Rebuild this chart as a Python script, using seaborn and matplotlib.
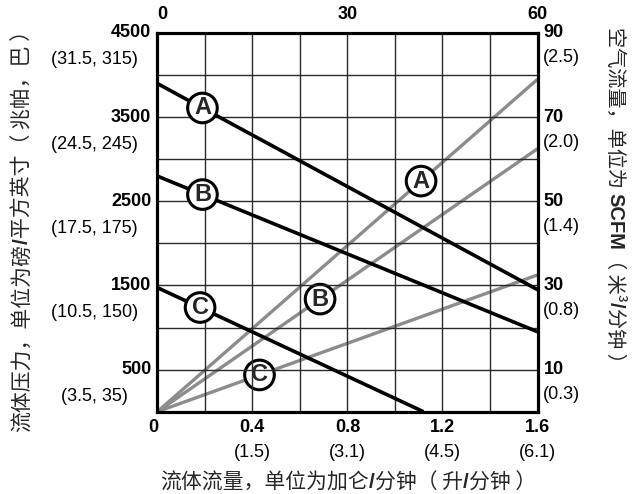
import numpy as np
import pandas as pd
import matplotlib
matplotlib.use("Agg")
import matplotlib.pyplot as plt
import seaborn as sns

sns.set_style("white")
plt.rcParams['font.family'] = ['Liberation Sans', 'Noto Sans CJK SC', 'DejaVu Sans']
CJK = ['Noto Sans CJK SC', 'Liberation Sans', 'DejaVu Sans']
LAT = ['Liberation Sans', 'DejaVu Sans']

# ---------------- data ----------------
flow_ab = [0.0, 1.6]
flow_c = [0.0, 1.12]
pressure_a = [3900, 1450]
pressure_b = [2800, 950]
pressure_c = [1475, 0]

air_flow_x = [0.0, 1.6]
air_a = [0, 79]
air_b = [0, 62.5]
air_c = [0, 32.5]

series_names = ["A", "B", "C"]

left_ticks = [500, 1500, 2500, 3500, 4500]
left_sub = ["(3.5, 35)", "(10.5, 150)", "(17.5, 175)", "(24.5, 245)", "(31.5, 315)"]
right_ticks = [10, 30, 50, 70, 90]
right_sub = ["(0.3)", "(0.8)", "(1.4)", "(2.0)", "(2.5)"]
bottom_ticks = [0, 0.4, 0.8, 1.2, 1.6]
bottom_labels = ["0", "0.4", "0.8", "1.2", "1.6"]
bottom_sub_pos = [0.4, 0.8, 1.2, 1.6]
bottom_sub = ["(1.5)", "(3.1)", "(4.5)", "(6.1)"]
top_ticks = [0, 30, 60]

# axis titles as (text, bold) pieces
xlabel_parts = [("流体流量，单位为加仑", False), ("/", True), ("分钟（ 升", False),
                ("/", True), ("分钟 ）", False)]
ylabel_left_parts = [("流体压力，单位为磅", False), ("/", True),
                     ("平方英寸（ 兆帕，巴 ）", False)]
ylabel_right_parts = [("空气流量，单位为 ", False), ("SCFM", True),
                      ("（ 米³", False), ("/", True), ("分钟 ）", False)]

# label positions along the lines (x in gpm)
black_label_x = [0.19, 0.19, 0.18]
gray_label_x = [1.11, 0.685, 0.43]

# ---------------- figure ----------------
W, H = 637, 494
fig = plt.figure(figsize=(W / 100, H / 100), dpi=100)
L, R, B, T = 157.3, 537.5, 411.7, 33.0
ax = fig.add_axes([L / W, 1 - B / H, (R - L) / W, (B - T) / H])
ax_r = ax.twinx()
ax_t = ax.twiny()

GRAY = "#8c8c8c"

gray_data = [air_a, air_b, air_c]
for name, yv in zip(series_names, gray_data):
    df = pd.DataFrame({"x": air_flow_x, "y": yv})
    sns.lineplot(data=df, x="x", y="y", ax=ax_r, color=GRAY, lw=2.4,
                 solid_capstyle="butt")
ax_r.set_ylim(0, 90)

black_data = [(flow_ab, pressure_a), (flow_ab, pressure_b), (flow_c, pressure_c)]
for name, (xv, yv) in zip(series_names, black_data):
    df = pd.DataFrame({"x": xv, "y": yv})
    sns.lineplot(data=df, x="x", y="y", ax=ax, color="black", lw=2.6,
                 solid_capstyle="butt")

ax.set_zorder(ax_r.zorder + 1)
ax.patch.set_visible(False)
ax_t.set_zorder(ax.zorder + 1)
ax_t.patch.set_visible(False)

ax.set_xlim(0, 1.6)
ax.set_ylim(0, 4500)
ax_t.set_xlim(0, 60)

ax.set_xticks(np.arange(0, 1.61, 0.2))
ax.set_yticks(np.arange(0, 4501, 500))
ax.grid(True, color="#2a2a2a", lw=1.0)
ax.set_xticklabels([])
ax.set_yticklabels([])
ax.tick_params(length=0)
ax.set_xlabel("")
ax.set_ylabel("")
ax_r.set_ylabel("")
ax_r.set_xlabel("")
ax_r.set_yticks([])
ax_t.set_xticks([])
ax_r.grid(False)
ax_t.grid(False)

for a in (ax, ax_r, ax_t):
    for s in a.spines.values():
        s.set_color("black")
        s.set_linewidth(2.2)

bold_kw = dict(fontsize=13, fontweight="bold", color="black")
sub_kw = dict(fontsize=13, color="black")

ytr = ax.get_yaxis_transform()
for v, s in zip(left_ticks, left_sub):
    ax.annotate(str(v), xy=(0, v), xycoords=ytr, xytext=(-6, 0),
                textcoords="offset pixels", ha="right", va="center", **bold_kw)
    ax.annotate(s, xy=(0, v), xycoords=ytr, xytext=(-63, -27),
                textcoords="offset pixels", ha="center", va="center", **sub_kw)

for v, s in zip(right_ticks, right_sub):
    ax_r.annotate(str(v), xy=(1, v), xycoords=ax_r.get_yaxis_transform(),
                  xytext=(6, 0), textcoords="offset pixels", ha="left",
                  va="center", **bold_kw)
    ax_r.annotate(s, xy=(1, v), xycoords=ax_r.get_yaxis_transform(),
                  xytext=(5, -25), textcoords="offset pixels", ha="left",
                  va="center", **sub_kw)

xtr = ax.get_xaxis_transform()
for v, s in zip(bottom_ticks, bottom_labels):
    dx = -4 if v == 0 else 0
    ax.annotate(s, xy=(v, 0), xycoords=xtr, xytext=(dx, -16),
                textcoords="offset pixels", ha="center", va="center", **bold_kw)
for v, s in zip(bottom_sub_pos, bottom_sub):
    ax.annotate(s, xy=(v, 0), xycoords=xtr, xytext=(0, -41),
                textcoords="offset pixels", ha="center", va="center", **sub_kw)

for v in top_ticks:
    dx = 5 if v == 0 else 0
    ax_t.annotate(str(v), xy=(v, 1), xycoords=ax_t.get_xaxis_transform(),
                  xytext=(dx, 18), textcoords="offset pixels", ha="center",
                  va="center", **bold_kw)

# ---- axis titles made of mixed-weight pieces ----
renderer = fig.canvas.get_renderer()


def piece_kw(bold, size):
    if bold:
        return dict(family=LAT, fontweight="bold", fontsize=size)
    return dict(family=CJK, fontweight="normal", fontsize=size)


def place_title(parts, cx, cy, rotation, size):
    """cx, cy in pixels from top-left; text runs along rotation direction."""
    # measure
    lengths = []
    for txt, bold in parts:
        t = fig.text(0, 0, txt, rotation=0, **piece_kw(bold, size))
        bb = t.get_window_extent(renderer)
        lengths.append(bb.width)
        t.remove()
    total = sum(lengths)
    px, py = cx, H - cy  # display coords (origin bottom-left)
    if rotation == 0:
        dx, dy = 1, 0
    elif rotation == 90:
        dx, dy = 0, 1
    else:
        dx, dy = 0, -1
    sx, sy = px - dx * total / 2, py - dy * total / 2
    pos = 0.0
    for (txt, bold), ln in zip(parts, lengths):
        x = sx + dx * pos
        y = sy + dy * pos
        fig.text(x / W, y / H, txt, rotation=rotation, rotation_mode="anchor",
                 ha="left", va="center_baseline", **piece_kw(bold, size))
        pos += ln


place_title(xlabel_parts, 348, 480, 0, 15)
place_title(ylabel_left_parts, 20, 226, 90, 15)
place_title(ylabel_right_parts, 617, 200, -90, 14.5)

circ = dict(boxstyle="circle,pad=0.14", fc="white", ec="black", lw=2.2)
for name, (xv, yv), lx in zip(series_names, black_data, black_label_x):
    ly = np.interp(lx, xv, yv)
    ax.text(lx, ly, name, ha="center", va="center", fontsize=17,
            fontweight="bold", bbox=circ, zorder=5)
for name, yv, lx in zip(series_names, gray_data, gray_label_x):
    ly = np.interp(lx, air_flow_x, yv)
    ax_r.text(lx, ly, name, ha="center", va="center", fontsize=17,
              fontweight="bold", bbox=circ, zorder=5)

fig.savefig("out.png", dpi=100)
